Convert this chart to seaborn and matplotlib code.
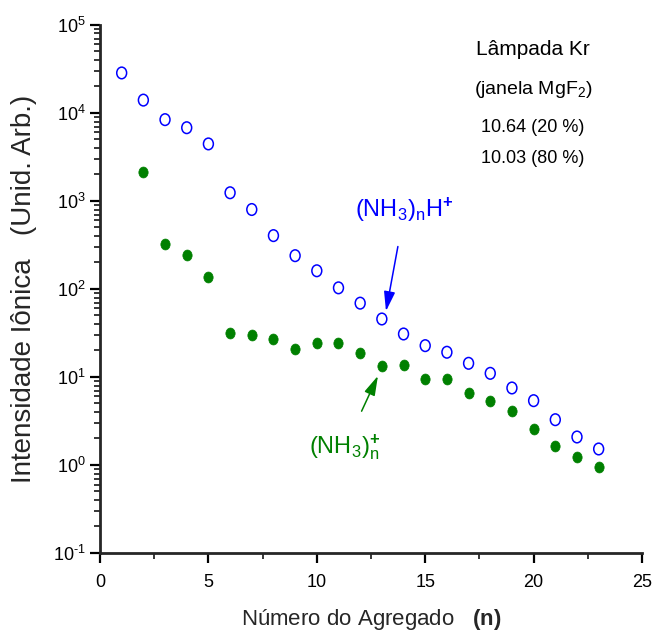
import numpy as np
import pandas as pd
import matplotlib
matplotlib.use("Agg")
import matplotlib.pyplot as plt
import matplotlib.ticker as mticker
from matplotlib.path import Path
from matplotlib.transforms import Affine2D
import seaborn as sns

# ---- data ----
n_protonated = list(range(1, 24))
protonated = [28500, 14000, 8400, 6800, 4450, 1240, 800, 404, 239, 161, 103, 69,
              45.6, 30.8, 22.7, 19.1, 14.3, 11.0, 7.5, 5.38, 3.27, 2.08, 1.52]
n_cation = list(range(2, 24))
cation = [2150, 322, 242, 136, 31.4, 30.0, 26.8, 20.8, 24.1, 24.5, 18.9,
          13.2, 13.6, 9.4, 9.4, 6.5, 5.34, 4.11, 2.54, 1.64, 1.24, 0.95]
x_ticks = [0, 5, 10, 15, 20, 25]
info_lines = ["Lâmpada Kr", r"(janela MgF$_2$)", "10.64 (20 %)", "10.03 (80 %)"]

df_p = pd.DataFrame({"n": n_protonated, "I": protonated})
df_c = pd.DataFrame({"n": n_cation, "I": cation})

sns.set_style("ticks")
plt.rcParams["font.family"] = ["Liberation Sans", "DejaVu Sans"]
plt.rcParams["mathtext.fontset"] = "custom"
plt.rcParams["mathtext.rm"] = "Liberation Sans"
plt.rcParams["mathtext.it"] = "Liberation Sans:italic"
plt.rcParams["mathtext.bf"] = "Liberation Sans:bold"
plt.rcParams["axes.unicode_minus"] = False

BLUE = "#0000ff"
GREEN = "#008000"

fig = plt.figure(figsize=(6.54, 6.37), dpi=100)
ax = fig.add_axes([0.1529, 0.1319, 0.8288, 0.8289])

ell = Path.unit_circle().transformed(Affine2D().scale(0.85, 1.0))

sns.scatterplot(data=df_p, x="n", y="I", ax=ax, marker=ell, s=70,
                facecolor="none", edgecolor=BLUE, linewidth=1.1, zorder=3)
sns.scatterplot(data=df_c, x="n", y="I", ax=ax, marker=ell, s=62,
                color=GREEN, edgecolor=GREEN, linewidth=0.5, zorder=3)

ax.set_yscale("log")
ax.set_xlim(0, 25)
ax.set_ylim(0.1, 1e5)
ax.set_xticks(x_ticks)
ax.xaxis.set_minor_locator(mticker.MultipleLocator(2.5))
ax.yaxis.set_major_locator(mticker.LogLocator(base=10, numticks=10))
ax.yaxis.set_minor_locator(mticker.LogLocator(base=10, subs=np.arange(2, 10), numticks=10))
ax.yaxis.set_minor_formatter(mticker.NullFormatter())


def pow_fmt(v, pos):
    e = int(round(np.log10(v)))
    es = str(e).replace("-", r"\text{-}")
    return r"$\mathrm{10}^{" + es + "}$"


ax.yaxis.set_major_formatter(mticker.FuncFormatter(pow_fmt))

for s in ["top", "right"]:
    ax.spines[s].set_visible(False)
for s in ["left", "bottom"]:
    ax.spines[s].set_linewidth(2)

ax.tick_params(axis="both", which="major", direction="out", length=7, width=1.6,
               labelsize=13, colors="black")
ax.tick_params(axis="both", which="minor", direction="out", length=4, width=1.3)
ax.tick_params(axis="x", pad=8)

ax.set_xlabel(r"Número do Agregado   $\mathbf{(n)}$", fontsize=16, labelpad=12)
ax.set_ylabel("Intensidade Iônica   (Unid. Arb.)", fontsize=20, labelpad=11)

# info block
ys = [0.953, 0.877, 0.805, 0.748]
sizes = [15, 14, 13, 13]
for t, y, fs in zip(info_lines, ys, sizes):
    ax.text(0.799, y, t, transform=ax.transAxes, ha="center", va="center",
            fontsize=fs, color="black")

# annotations
ax.annotate(r"$(\mathrm{NH}_3)_\mathrm{n}\mathrm{H}^{\mathbf{+}}$", xy=(13.19, 56), xytext=(14.05, 790),
            color=BLUE, fontsize=17, ha="center", va="center",
            arrowprops=dict(arrowstyle="-|>,head_length=0.7,head_width=0.2",
                            color=BLUE, lw=1.1, shrinkA=14, shrinkB=0))
ax.annotate(r"$(\mathrm{NH}_3)_\mathrm{n}^{\mathbf{+}}$", xy=(12.82, 10.3), xytext=(11.3, 1.6),
            color=GREEN, fontsize=17, ha="center", va="center",
            arrowprops=dict(arrowstyle="-|>,head_length=0.7,head_width=0.2",
                            color=GREEN, lw=1.1, shrinkA=14, shrinkB=0))

fig.savefig("out.png", dpi=100)
